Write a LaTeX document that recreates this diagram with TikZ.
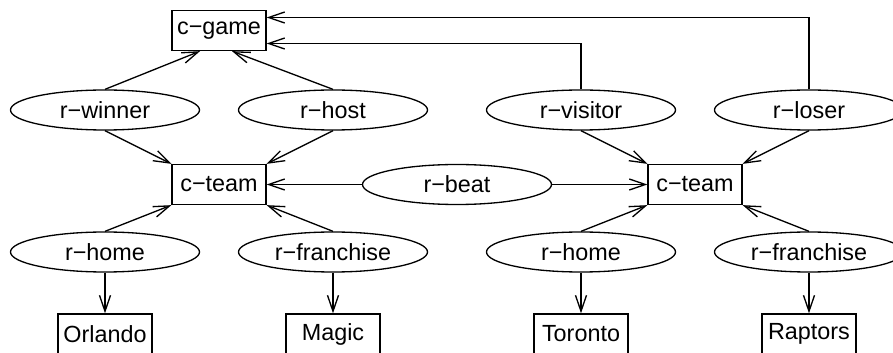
\documentclass[tikz,border=0pt]{standalone}
\usepackage{fontspec}
\setmainfont{Liberation Sans}
\usetikzlibrary{shapes.geometric,arrows.meta}
\begin{document}
\begin{tikzpicture}[line width=0.75pt,
    font=\fontsize{13.3}{16}\selectfont,
    box/.style={draw,rectangle,minimum width=1.88cm,minimum height=0.8cm,inner sep=0pt},
    rel/.style={draw,ellipse,minimum width=3.78cm,minimum height=0.8cm,inner sep=0pt},
    >={Straight Barb[length=0.32cm,width=0.22cm]}]
    \useasboundingbox (0,0) rectangle (17.86,7.04);
    % concepts
    \node[box] (game) at (4.38,6.43) {c−game};
    \node[box] (teamA) at (4.38,3.35) {c−team};
    \node[box] (teamB) at (13.90,3.35) {c−team};
    % relations
    \node[rel] (winner) at (2.10,4.84) {r−winner};
    \node[rel] (host) at (6.66,4.84) {r−host};
    \node[rel] (visitor) at (11.62,4.84) {r−visitor};
    \node[rel] (loser) at (16.18,4.84) {r−loser};
    \node[rel] (beat) at (9.14,3.35) {r−beat};
    \node[rel] (homeA) at (2.10,2.00) {r−home};
    \node[rel] (franA) at (6.66,2.00) {r−franchise};
    \node[rel] (homeB) at (11.62,2.00) {r−home};
    \node[rel] (franB) at (16.18,2.00) {r−franchise};
    % instances
    \node[box] (orlando) at (2.10,0.36) {Orlando};
    \node[box] (magic) at (6.66,0.36) {Magic};
    \node[box] (toronto) at (11.62,0.36) {Toronto};
    \node[box] (raptors) at (16.18,0.36) {Raptors};
    % edges
    \draw[->] (winner.north) -- ([xshift=-0.38cm]game.south);
    \draw[->] (host.north) -- ([xshift=0.26cm]game.south);
    \draw[->] (visitor.north) |- ([yshift=-0.26cm]game.east);
    \draw[->] (loser.north) |- ([yshift=0.26cm]game.east);
    \draw[->] (winner.south) -- (teamA.north west);
    \draw[->] (host.south) -- (teamA.north east);
    \draw[->] (visitor.south) -- (teamB.north west);
    \draw[->] (loser.south) -- (teamB.north east);
    \draw[->] (beat.west) -- (teamA.east);
    \draw[->] (beat.east) -- (teamB.west);
    \draw[->] (homeA.north) -- (teamA.south west);
    \draw[->] (franA.north) -- (teamA.south east);
    \draw[->] (homeB.north) -- (teamB.south west);
    \draw[->] (franB.north) -- (teamB.south east);
    \draw[->] (homeA.south) -- (orlando.north);
    \draw[->] (franA.south) -- (magic.north);
    \draw[->] (homeB.south) -- (toronto.north);
    \draw[->] (franB.south) -- (raptors.north);
\end{tikzpicture}
\end{document}
